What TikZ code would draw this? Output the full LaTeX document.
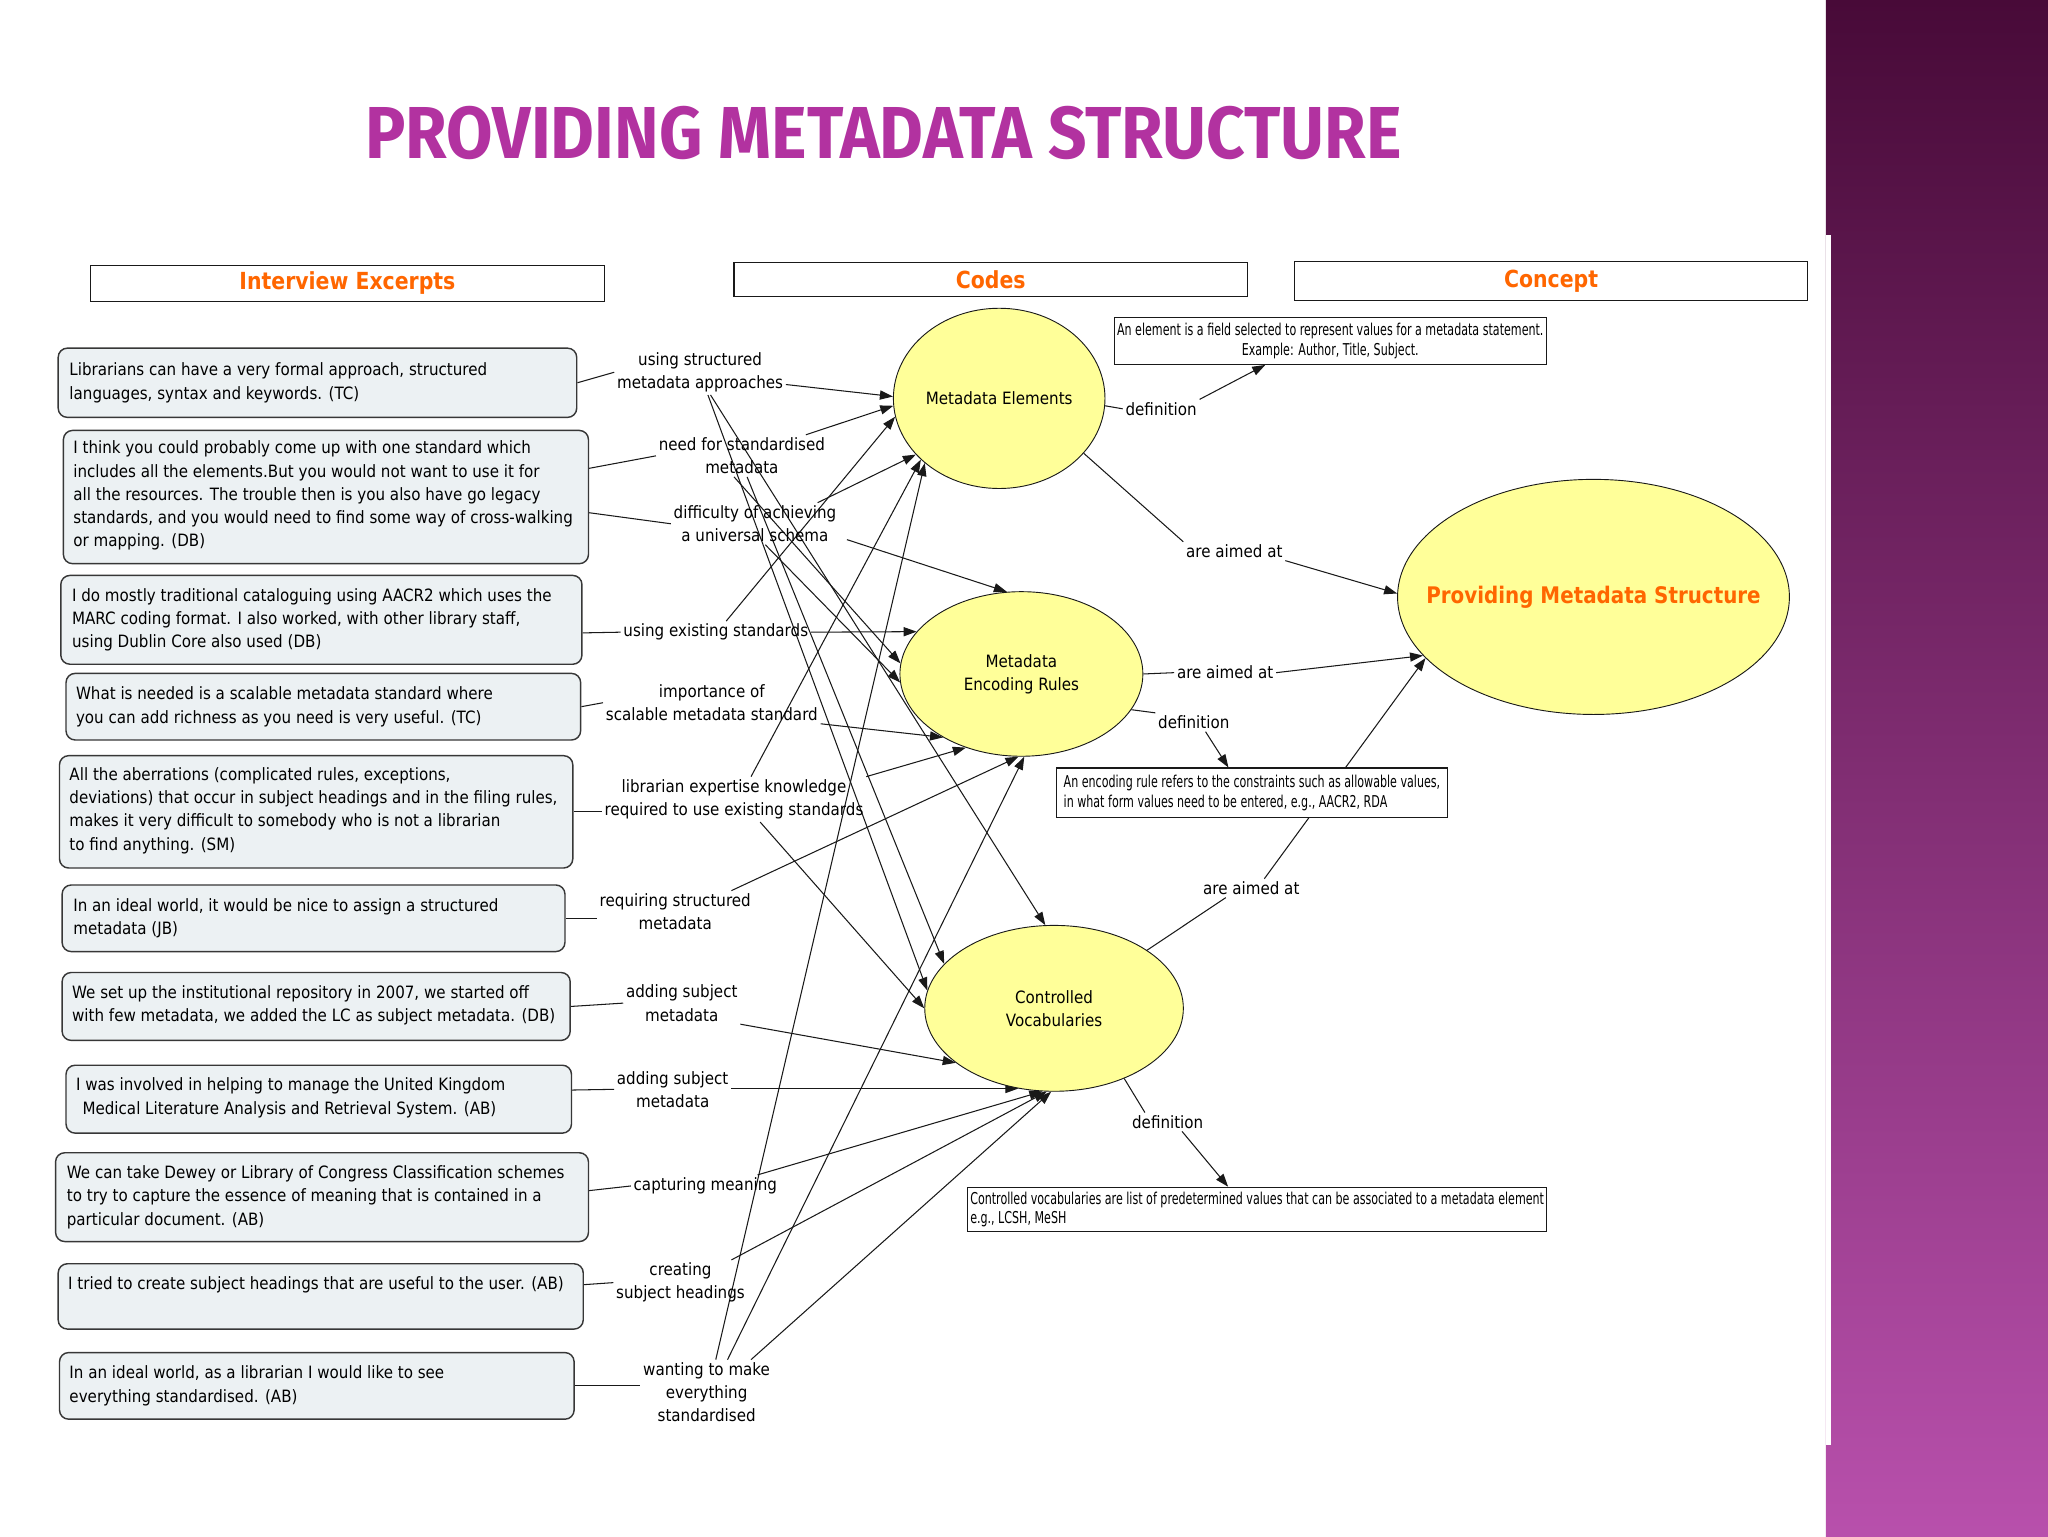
\documentclass[tikz,border=0pt]{standalone}
\usepackage{fontspec}
\usepackage{graphicx}
\usetikzlibrary{arrows.meta,calc,shapes.geometric}
\setmainfont{DejaVu Sans}
\newfontfamily\exfont[FakeStretch=0.89]{DejaVu Sans}
\newfontfamily\hdfont[FakeStretch=0.87]{DejaVu Sans}
\newfontfamily\deffont[FakeStretch=0.68]{DejaVu Sans}
\newfontfamily\titlefont{Fira Sans}
\definecolor{titlec}{RGB}{178,50,160}
\definecolor{orangec}{RGB}{255,102,0}
\definecolor{ylw}{RGB}{255,255,153}
\definecolor{boxfill}{RGB}{236,241,243}
\definecolor{boxline}{RGB}{55,55,55}
\definecolor{bandtop}{RGB}{72,10,56}
\definecolor{bandbot}{RGB}{184,80,172}
\definecolor{inkc}{RGB}{25,25,25}
\pgfdeclarelayer{back}
\pgfdeclarelayer{mid}
\pgfsetlayers{back,mid,main}
\begin{document}
\begin{tikzpicture}[x=1pt,y=-1pt,
  exbox/.style={draw=boxline, line width=1.1pt, fill=boxfill, rounded corners=7pt, anchor=north west, inner sep=0pt},
  extext/.style={anchor=west, inner sep=0pt, align=left, font={\exfont\fontsize{13}{17.8}\selectfont}},
  hdbox/.style={draw=inkc, line width=0.9pt, fill=white, inner sep=0pt, text=orangec, font={\hdfont\bfseries\fontsize{18}{20}\selectfont}},
  codelbl/.style={align=center, inner sep=2pt, font={\exfont\fontsize{13}{17.8}\selectfont}},
  ell/.style={ellipse, draw=inkc, line width=0.7pt, fill=ylw, inner sep=0pt, align=center, font={\exfont\fontsize{13}{17.8}\selectfont}},
  defbox/.style={draw=inkc, line width=0.8pt, fill=white, inner sep=0pt, font={\deffont\fontsize{12.5}{15}\selectfont}},
  ln/.style={draw=inkc, line width=0.8pt},
  arr/.style={draw=inkc, line width=0.8pt, -{Triangle[length=10pt,width=7pt]}}]
\useasboundingbox (0,0) rectangle (1568,1176);
\begin{pgfonlayer}{back}
  \fill[white] (0,0) rectangle (1568,1176);
  \shade[top color=bandtop, bottom color=bandbot] (1398,0) rectangle (1568,1176);
  \fill[white] (1398,180) rectangle (1402,1106);
\end{pgfonlayer}

% title
\node[inner sep=0pt, text=titlec] (title) at (676.5,102) {\resizebox{793pt}{40pt}{\titlefont\bfseries PROVIDING METADATA STRUCTURE}};

% headers
\node[hdbox, minimum width=394pt, minimum height=28pt] (h1) at (266,217) {Interview Excerpts};
\node[hdbox, minimum width=393pt, minimum height=26pt] (h2) at (758.5,214) {Codes};
\node[hdbox, minimum width=393pt, minimum height=30pt] (h3) at (1187.5,215) {Concept};

% excerpt boxes
\node[exbox, minimum width=397pt, minimum height=53pt] (b1) at (44,266) {};
\node[extext] (t1) at ($(b1.west)+(9,0)$) {Librarians can have a very formal approach, structured\\languages, syntax and keywords. (TC)};
\node[exbox, minimum width=402pt, minimum height=102pt] (b2) at (48,329) {};
\node[extext] (t2) at ($(b2.west)+(8,-1)$) {I think you could probably come up with one standard which\\includes all the elements.But you would not want to use it for\\all the resources. The trouble then is you also have go legacy\\standards, and you would need to find some way of cross-walking\\or mapping. (DB)};
\node[exbox, minimum width=399pt, minimum height=68pt] (b3) at (46,440) {};
\node[extext] (t3) at ($(b3.west)+(9,0)$) {I do mostly traditional cataloguing using AACR2 which uses the\\MARC coding format. I also worked, with other library staff,\\using Dublin Core also used (DB)};
\node[exbox, minimum width=394pt, minimum height=51pt] (b4) at (50,515) {};
\node[extext] (t4) at ($(b4.west)+(8,0)$) {What is needed is a scalable metadata standard where\\you can add richness as you need is very useful. (TC)};
\node[exbox, minimum width=393pt, minimum height=86pt] (b5) at (45,578) {};
\node[extext] (t5) at ($(b5.west)+(8,-1)$) {All the aberrations (complicated rules, exceptions,\\deviations) that occur in subject headings and in the filing rules,\\makes it very difficult to somebody who is not a librarian\\to find anything. (SM)};
\node[exbox, minimum width=385pt, minimum height=51pt] (b6) at (47,677) {};
\node[extext] (t6) at ($(b6.west)+(9,0)$) {In an ideal world, it would be nice to assign a structured\\metadata (JB)};
\node[exbox, minimum width=389pt, minimum height=52pt] (b7) at (47,744) {};
\node[extext] (t7) at ($(b7.west)+(8,-1)$) {We set up the institutional repository in 2007, we started off\\with few metadata, we added the LC as subject metadata. (DB)};
\node[exbox, minimum width=387pt, minimum height=52pt] (b8) at (50,815) {};
\node[extext] (t8) at ($(b8.west)+(8,-1)$) {I was involved in helping to manage the United Kingdom\\\hspace*{5pt}Medical Literature Analysis and Retrieval System. (AB)};
\node[exbox, minimum width=408pt, minimum height=68pt] (b9) at (42,882) {};
\node[extext] (t9) at ($(b9.west)+(9,0)$) {We can take Dewey or Library of Congress Classification schemes\\to try to capture the essence of meaning that is contained in a\\particular document. (AB)};
\node[exbox, minimum width=402pt, minimum height=50pt] (b10) at (44,967) {};
\node[extext] (t10) at ($(b10.west)+(8,-9)$) {I tried to create subject headings that are useful to the user. (AB)};
\node[exbox, minimum width=394pt, minimum height=51pt] (b11) at (45,1035) {};
\node[extext] (t11) at ($(b11.west)+(8,0)$) {In an ideal world, as a librarian I would like to see\\everything standardised. (AB)};

% code labels
\node[codelbl] (lab1) at (536,285) {using structured\\metadata approaches};
\node[codelbl] (lab2) at (568,349) {need for standardised\\metadata};
\node[codelbl] (lab3) at (578,401) {difficulty of achieving\\a universal schema};
\node[codelbl] (lab4) at (548,484) {using existing standards};
\node[codelbl] (lab5) at (545,538) {importance of\\scalable metadata standard};
\node[codelbl] (lab6) at (562,612) {librarian expertise knowledge\\required to use existing standards};
\node[codelbl] (lab7) at (517,698) {requiring structured\\metadata};
\node[codelbl] (lab8) at (522,768) {adding subject\\metadata};
\node[codelbl] (lab9) at (515,834) {adding subject\\metadata};
\node[codelbl] (lab10) at (540,908) {capturing meaning};
\node[codelbl] (lab11) at (521,982) {creating\\subject headings};
\node[codelbl] (lab12) at (541,1066) {wanting to make\\everything\\standardised};

% ellipses
\node[ell, minimum width=162pt, minimum height=138pt] (me) at (765,305) {\makebox[0pt]{Metadata Elements}};
\node[ell, minimum width=186pt, minimum height=126pt] (mer) at (782,516) {Metadata\\Encoding Rules};
\node[ell, minimum width=198pt, minimum height=127pt] (cv) at (807,772) {Controlled\\Vocabularies};
\node[ell, minimum width=300pt, minimum height=180pt, text=orangec, font={\hdfont\bfseries\fontsize{17.5}{20}\selectfont}] (pms) at (1220,457) {\makebox[0pt]{Providing Metadata Structure}};

% right labels
\node[codelbl] (dl1) at (889,313) {definition};
\node[codelbl] (al1) at (945,422) {are aimed at};
\node[codelbl] (al2) at (938,515) {are aimed at};
\node[codelbl] (dl2) at (914,553) {definition};
\node[codelbl] (al3) at (958,680) {are aimed at};
\node[codelbl] (dl3) at (894,859) {definition};

% definition boxes
\node[defbox, minimum width=331pt, minimum height=36pt, align=center] (def1) at (1018.5,261) {An element is a field selected to represent values for a metadata statement.\\Example: Author, Title, Subject.};
\node[defbox, minimum width=299pt, minimum height=38pt, align=left] (def2) at (958.5,607) {An encoding rule refers to the constraints such as allowable values,\\in what form values need to be entered, e.g., AACR2, RDA};
\node[defbox, minimum width=443pt, minimum height=34pt, align=left] (def3) at (962.5,926) {Controlled vocabularies are list of predetermined values that can be associated to a metadata element\\e.g., LCSH, MeSH};

\begin{pgfonlayer}{mid}
  % excerpts to codes
  \draw[ln] (b1.east) -- (lab1.west);
  \draw[ln] ($(b2.east)+(0,-22)$) -- (lab2.west);
  \draw[ln] ($(b2.east)+(0,12)$) -- (lab3.west);
  \draw[ln] ($(b3.east)+(0,10)$) -- (lab4.west);
  \draw[ln] (b4.east) -- (lab5.west);
  \draw[ln] (b5.east) -- (b5.east -| lab6.west);
  \draw[ln] (b6.east) -- (b6.east -| lab7.west);
  \draw[ln] (b7.east) -- (lab8.west);
  \draw[ln] ($(b8.east)+(0,-7)$) -- (lab9.west);
  \draw[ln] ($(b9.east)+(0,-5)$) -- (lab10.west);
  \draw[ln] ($(b10.east)+(0,-9)$) -- (lab11.west);
  \draw[ln] (b11.east) -- (b11.east -| lab12.west);

  % codes to concepts
  \draw[arr] ($(lab1.south east)+(0,-8)$) -- (me.179);
  \draw[arr] ($(lab1.south)+(8,0)$) -- (cv.96);
  \draw[arr] ($(lab1.south)+(6,0)$) -- (cv.172);
  \draw[arr] ($(lab2.north)+(49,0)$) -- (me.184);
  \draw[arr] ($(lab2.south)+(-6,0)$) -- (mer.175);
  \draw[arr] ($(lab2.south)+(4,0)$) -- (cv.158);
  \draw[arr] ($(lab3.north)+(48,0)$) -- (me.214);
  \draw[arr] ($(lab3.south east)+(6,-4)$) -- (mer.100);
  \draw[arr] ($(lab3.south)+(8,0)$) -- (mer.184);
  \draw[arr] ($(lab4.north)+(8,0)$) -- (me.190);
  \draw[arr] (lab4.east) -- (mer.158);
  \draw[arr] (lab5.south east) -- (mer.219);
  \draw[arr] ($(lab6.north)+(13,0)$) -- (me.218);
  \draw[arr] (lab6.north east) -- (mer.233);
  \draw[arr] ($(lab6.south)+(20,0)$) -- (cv.180);
  \draw[arr] ($(lab7.north)+(43,0)$) -- (mer.268);
  \draw[arr] (lab8.south east) -- (cv.209);
  \draw[arr] (lab9.east |- cv.246) -- (cv.246);
  \draw[arr] ($(lab10.north)+(40,0)$) -- (cv.262);
  \draw[arr] ($(lab11.north)+(39,0)$) -- (cv.265);
  \draw[arr] ($(lab12.north)+(7,0)$) -- (me.221);
  \draw[arr] ($(lab12.north)+(16,0)$) -- (mer.272);
  \draw[arr] ($(lab12.north)+(34,0)$) -- (cv.268);

  % concepts to main concept and definitions
  \draw[ln] (me.-4) -- (dl1.west);
  \draw[arr] (dl1.north east) -- ($(def1.south west)!0.35!(def1.south east)$);
  \draw[ln] (me.-33) -- (al1.north west);
  \draw[arr] (al1.south east) -- (pms.179);
  \draw[ln] (mer.east) -- (al2.west);
  \draw[arr] (al2.east) -- (pms.199);
  \draw[ln] (mer.-18) -- (dl2.north west);
  \draw[arr] ($(dl2.south)+(9,0)$) -- ($(def2.north west)!0.44!(def2.north east)$);
  \draw[ln] (cv.32) -- ($(al3.south west)!0.25!(al3.south east)$);
  \draw[arr] ($(al3.north)+(10,0)$) -- (pms.200);
  \draw[ln] (cv.-45) -- ($(dl3.north west)+(12,0)$);
  \draw[arr] ($(dl3.south)+(11,0)$) -- ($(def3.north west)!0.45!(def3.north east)$);
\end{pgfonlayer}
\end{tikzpicture}
\end{document}
